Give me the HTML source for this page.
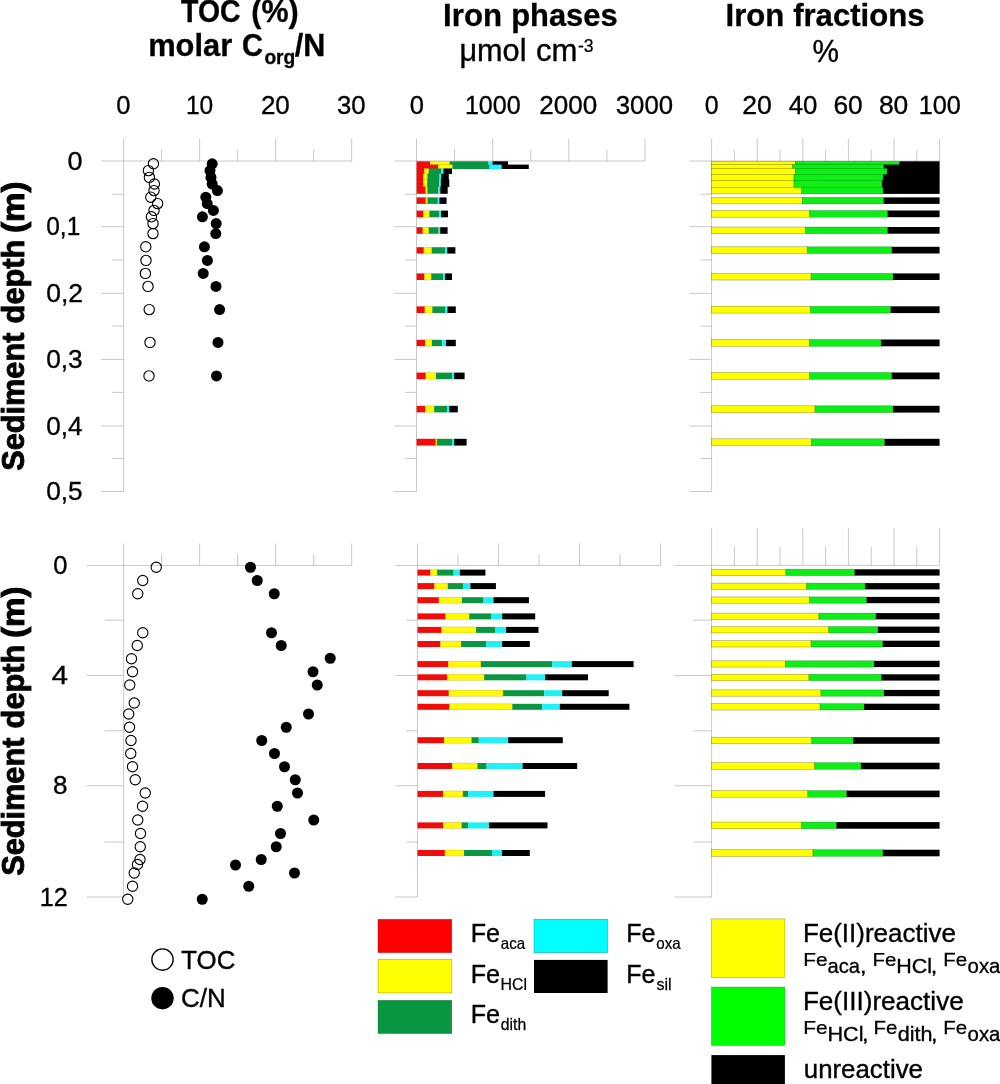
<!DOCTYPE html>
<html><head><meta charset="utf-8"><title>Iron phases and fractions</title>
<style>html,body{margin:0;padding:0;background:#fff}svg{display:block}text{font-family:"Liberation Sans",sans-serif;fill:#000}</style>
</head><body>
<svg width="1000" height="1084" viewBox="0 0 1000 1084">
<rect width="1000" height="1084" fill="#fff"/>
<line x1="101.20" y1="161.00" x2="351.70" y2="161.00" stroke="#9a9a9a" stroke-width="0.55"/>
<line x1="123.60" y1="138.60" x2="123.60" y2="491.40" stroke="#9a9a9a" stroke-width="0.55"/>
<line x1="199.63" y1="138.60" x2="199.63" y2="161.00" stroke="#9a9a9a" stroke-width="0.55"/>
<line x1="275.67" y1="138.60" x2="275.67" y2="161.00" stroke="#9a9a9a" stroke-width="0.55"/>
<line x1="351.70" y1="138.60" x2="351.70" y2="161.00" stroke="#9a9a9a" stroke-width="0.55"/>
<line x1="161.62" y1="149.60" x2="161.62" y2="161.00" stroke="#9a9a9a" stroke-width="0.55"/>
<line x1="237.65" y1="149.60" x2="237.65" y2="161.00" stroke="#9a9a9a" stroke-width="0.55"/>
<line x1="313.68" y1="149.60" x2="313.68" y2="161.00" stroke="#9a9a9a" stroke-width="0.55"/>
<line x1="101.20" y1="226.70" x2="123.60" y2="226.70" stroke="#9a9a9a" stroke-width="0.55"/>
<line x1="101.20" y1="293.30" x2="123.60" y2="293.30" stroke="#9a9a9a" stroke-width="0.55"/>
<line x1="101.20" y1="359.40" x2="123.60" y2="359.40" stroke="#9a9a9a" stroke-width="0.55"/>
<line x1="101.20" y1="426.00" x2="123.60" y2="426.00" stroke="#9a9a9a" stroke-width="0.55"/>
<line x1="101.20" y1="491.50" x2="123.60" y2="491.50" stroke="#9a9a9a" stroke-width="0.55"/>
<line x1="112.20" y1="194.20" x2="123.60" y2="194.20" stroke="#9a9a9a" stroke-width="0.55"/>
<line x1="112.20" y1="259.90" x2="123.60" y2="259.90" stroke="#9a9a9a" stroke-width="0.55"/>
<line x1="112.20" y1="326.10" x2="123.60" y2="326.10" stroke="#9a9a9a" stroke-width="0.55"/>
<line x1="112.20" y1="392.40" x2="123.60" y2="392.40" stroke="#9a9a9a" stroke-width="0.55"/>
<line x1="112.20" y1="458.50" x2="123.60" y2="458.50" stroke="#9a9a9a" stroke-width="0.55"/>
<line x1="86.50" y1="565.40" x2="351.70" y2="565.40" stroke="#9a9a9a" stroke-width="0.55"/>
<line x1="123.60" y1="543.60" x2="123.60" y2="897.00" stroke="#9a9a9a" stroke-width="0.55"/>
<line x1="199.63" y1="543.60" x2="199.63" y2="565.40" stroke="#9a9a9a" stroke-width="0.55"/>
<line x1="275.67" y1="543.60" x2="275.67" y2="565.40" stroke="#9a9a9a" stroke-width="0.55"/>
<line x1="351.70" y1="543.60" x2="351.70" y2="565.40" stroke="#9a9a9a" stroke-width="0.55"/>
<line x1="161.62" y1="554.50" x2="161.62" y2="565.40" stroke="#9a9a9a" stroke-width="0.55"/>
<line x1="237.65" y1="554.50" x2="237.65" y2="565.40" stroke="#9a9a9a" stroke-width="0.55"/>
<line x1="313.68" y1="554.50" x2="313.68" y2="565.40" stroke="#9a9a9a" stroke-width="0.55"/>
<line x1="86.50" y1="675.50" x2="123.60" y2="675.50" stroke="#9a9a9a" stroke-width="0.55"/>
<line x1="86.50" y1="785.70" x2="123.60" y2="785.70" stroke="#9a9a9a" stroke-width="0.55"/>
<line x1="86.50" y1="897.00" x2="123.60" y2="897.00" stroke="#9a9a9a" stroke-width="0.55"/>
<line x1="104.60" y1="620.20" x2="123.60" y2="620.20" stroke="#9a9a9a" stroke-width="0.55"/>
<line x1="104.60" y1="730.80" x2="123.60" y2="730.80" stroke="#9a9a9a" stroke-width="0.55"/>
<line x1="104.60" y1="842.10" x2="123.60" y2="842.10" stroke="#9a9a9a" stroke-width="0.55"/>
<line x1="394.30" y1="161.00" x2="645.00" y2="161.00" stroke="#9a9a9a" stroke-width="0.55"/>
<line x1="416.50" y1="138.80" x2="416.50" y2="491.40" stroke="#9a9a9a" stroke-width="0.55"/>
<line x1="492.67" y1="138.80" x2="492.67" y2="161.00" stroke="#9a9a9a" stroke-width="0.55"/>
<line x1="568.83" y1="138.80" x2="568.83" y2="161.00" stroke="#9a9a9a" stroke-width="0.55"/>
<line x1="645.00" y1="138.80" x2="645.00" y2="161.00" stroke="#9a9a9a" stroke-width="0.55"/>
<line x1="454.58" y1="149.80" x2="454.58" y2="161.00" stroke="#9a9a9a" stroke-width="0.55"/>
<line x1="530.75" y1="149.80" x2="530.75" y2="161.00" stroke="#9a9a9a" stroke-width="0.55"/>
<line x1="606.92" y1="149.80" x2="606.92" y2="161.00" stroke="#9a9a9a" stroke-width="0.55"/>
<line x1="394.30" y1="226.70" x2="416.50" y2="226.70" stroke="#9a9a9a" stroke-width="0.55"/>
<line x1="394.30" y1="293.30" x2="416.50" y2="293.30" stroke="#9a9a9a" stroke-width="0.55"/>
<line x1="394.30" y1="359.40" x2="416.50" y2="359.40" stroke="#9a9a9a" stroke-width="0.55"/>
<line x1="394.30" y1="426.00" x2="416.50" y2="426.00" stroke="#9a9a9a" stroke-width="0.55"/>
<line x1="394.30" y1="491.50" x2="416.50" y2="491.50" stroke="#9a9a9a" stroke-width="0.55"/>
<line x1="405.30" y1="194.20" x2="416.50" y2="194.20" stroke="#9a9a9a" stroke-width="0.55"/>
<line x1="405.30" y1="259.90" x2="416.50" y2="259.90" stroke="#9a9a9a" stroke-width="0.55"/>
<line x1="405.30" y1="326.10" x2="416.50" y2="326.10" stroke="#9a9a9a" stroke-width="0.55"/>
<line x1="405.30" y1="392.40" x2="416.50" y2="392.40" stroke="#9a9a9a" stroke-width="0.55"/>
<line x1="405.30" y1="458.50" x2="416.50" y2="458.50" stroke="#9a9a9a" stroke-width="0.55"/>
<line x1="395.40" y1="565.40" x2="660.60" y2="565.40" stroke="#9a9a9a" stroke-width="0.55"/>
<line x1="417.40" y1="543.40" x2="417.40" y2="897.00" stroke="#9a9a9a" stroke-width="0.55"/>
<line x1="498.47" y1="543.40" x2="498.47" y2="565.40" stroke="#9a9a9a" stroke-width="0.55"/>
<line x1="579.53" y1="543.40" x2="579.53" y2="565.40" stroke="#9a9a9a" stroke-width="0.55"/>
<line x1="660.60" y1="543.40" x2="660.60" y2="565.40" stroke="#9a9a9a" stroke-width="0.55"/>
<line x1="457.93" y1="554.40" x2="457.93" y2="565.40" stroke="#9a9a9a" stroke-width="0.55"/>
<line x1="539.00" y1="554.40" x2="539.00" y2="565.40" stroke="#9a9a9a" stroke-width="0.55"/>
<line x1="620.07" y1="554.40" x2="620.07" y2="565.40" stroke="#9a9a9a" stroke-width="0.55"/>
<line x1="395.40" y1="675.50" x2="417.40" y2="675.50" stroke="#9a9a9a" stroke-width="0.55"/>
<line x1="395.40" y1="785.70" x2="417.40" y2="785.70" stroke="#9a9a9a" stroke-width="0.55"/>
<line x1="395.40" y1="897.00" x2="417.40" y2="897.00" stroke="#9a9a9a" stroke-width="0.55"/>
<line x1="406.40" y1="620.20" x2="417.40" y2="620.20" stroke="#9a9a9a" stroke-width="0.55"/>
<line x1="406.40" y1="730.80" x2="417.40" y2="730.80" stroke="#9a9a9a" stroke-width="0.55"/>
<line x1="406.40" y1="842.10" x2="417.40" y2="842.10" stroke="#9a9a9a" stroke-width="0.55"/>
<line x1="689.40" y1="161.00" x2="939.60" y2="161.00" stroke="#9a9a9a" stroke-width="0.55"/>
<line x1="711.60" y1="138.80" x2="711.60" y2="491.40" stroke="#9a9a9a" stroke-width="0.55"/>
<line x1="757.20" y1="138.80" x2="757.20" y2="161.00" stroke="#9a9a9a" stroke-width="0.55"/>
<line x1="802.80" y1="138.80" x2="802.80" y2="161.00" stroke="#9a9a9a" stroke-width="0.55"/>
<line x1="848.40" y1="138.80" x2="848.40" y2="161.00" stroke="#9a9a9a" stroke-width="0.55"/>
<line x1="894.00" y1="138.80" x2="894.00" y2="161.00" stroke="#9a9a9a" stroke-width="0.55"/>
<line x1="939.60" y1="138.80" x2="939.60" y2="161.00" stroke="#9a9a9a" stroke-width="0.55"/>
<line x1="734.40" y1="149.80" x2="734.40" y2="161.00" stroke="#9a9a9a" stroke-width="0.55"/>
<line x1="780.00" y1="149.80" x2="780.00" y2="161.00" stroke="#9a9a9a" stroke-width="0.55"/>
<line x1="825.60" y1="149.80" x2="825.60" y2="161.00" stroke="#9a9a9a" stroke-width="0.55"/>
<line x1="871.20" y1="149.80" x2="871.20" y2="161.00" stroke="#9a9a9a" stroke-width="0.55"/>
<line x1="916.80" y1="149.80" x2="916.80" y2="161.00" stroke="#9a9a9a" stroke-width="0.55"/>
<line x1="689.40" y1="226.70" x2="711.60" y2="226.70" stroke="#9a9a9a" stroke-width="0.55"/>
<line x1="689.40" y1="293.30" x2="711.60" y2="293.30" stroke="#9a9a9a" stroke-width="0.55"/>
<line x1="689.40" y1="359.40" x2="711.60" y2="359.40" stroke="#9a9a9a" stroke-width="0.55"/>
<line x1="689.40" y1="426.00" x2="711.60" y2="426.00" stroke="#9a9a9a" stroke-width="0.55"/>
<line x1="689.40" y1="491.50" x2="711.60" y2="491.50" stroke="#9a9a9a" stroke-width="0.55"/>
<line x1="700.40" y1="194.20" x2="711.60" y2="194.20" stroke="#9a9a9a" stroke-width="0.55"/>
<line x1="700.40" y1="259.90" x2="711.60" y2="259.90" stroke="#9a9a9a" stroke-width="0.55"/>
<line x1="700.40" y1="326.10" x2="711.60" y2="326.10" stroke="#9a9a9a" stroke-width="0.55"/>
<line x1="700.40" y1="392.40" x2="711.60" y2="392.40" stroke="#9a9a9a" stroke-width="0.55"/>
<line x1="700.40" y1="458.50" x2="711.60" y2="458.50" stroke="#9a9a9a" stroke-width="0.55"/>
<line x1="674.40" y1="565.40" x2="939.60" y2="565.40" stroke="#9a9a9a" stroke-width="0.55"/>
<line x1="711.60" y1="528.20" x2="711.60" y2="897.00" stroke="#9a9a9a" stroke-width="0.55"/>
<line x1="757.20" y1="528.20" x2="757.20" y2="565.40" stroke="#9a9a9a" stroke-width="0.55"/>
<line x1="802.80" y1="528.20" x2="802.80" y2="565.40" stroke="#9a9a9a" stroke-width="0.55"/>
<line x1="848.40" y1="528.20" x2="848.40" y2="565.40" stroke="#9a9a9a" stroke-width="0.55"/>
<line x1="894.00" y1="528.20" x2="894.00" y2="565.40" stroke="#9a9a9a" stroke-width="0.55"/>
<line x1="939.60" y1="528.20" x2="939.60" y2="565.40" stroke="#9a9a9a" stroke-width="0.55"/>
<line x1="734.40" y1="546.80" x2="734.40" y2="565.40" stroke="#9a9a9a" stroke-width="0.55"/>
<line x1="780.00" y1="546.80" x2="780.00" y2="565.40" stroke="#9a9a9a" stroke-width="0.55"/>
<line x1="825.60" y1="546.80" x2="825.60" y2="565.40" stroke="#9a9a9a" stroke-width="0.55"/>
<line x1="871.20" y1="546.80" x2="871.20" y2="565.40" stroke="#9a9a9a" stroke-width="0.55"/>
<line x1="916.80" y1="546.80" x2="916.80" y2="565.40" stroke="#9a9a9a" stroke-width="0.55"/>
<line x1="674.40" y1="675.50" x2="711.60" y2="675.50" stroke="#9a9a9a" stroke-width="0.55"/>
<line x1="674.40" y1="785.70" x2="711.60" y2="785.70" stroke="#9a9a9a" stroke-width="0.55"/>
<line x1="674.40" y1="897.00" x2="711.60" y2="897.00" stroke="#9a9a9a" stroke-width="0.55"/>
<line x1="693.00" y1="620.20" x2="711.60" y2="620.20" stroke="#9a9a9a" stroke-width="0.55"/>
<line x1="693.00" y1="730.80" x2="711.60" y2="730.80" stroke="#9a9a9a" stroke-width="0.55"/>
<line x1="693.00" y1="842.10" x2="711.60" y2="842.10" stroke="#9a9a9a" stroke-width="0.55"/>
<circle cx="153.40" cy="163.80" r="5.15" fill="none" stroke="#000" stroke-width="1.1"/>
<circle cx="148.40" cy="170.60" r="5.15" fill="none" stroke="#000" stroke-width="1.1"/>
<circle cx="149.40" cy="177.40" r="5.15" fill="none" stroke="#000" stroke-width="1.1"/>
<circle cx="154.40" cy="184.00" r="5.15" fill="none" stroke="#000" stroke-width="1.1"/>
<circle cx="154.00" cy="190.60" r="5.15" fill="none" stroke="#000" stroke-width="1.1"/>
<circle cx="150.80" cy="197.20" r="5.15" fill="none" stroke="#000" stroke-width="1.1"/>
<circle cx="157.60" cy="203.60" r="5.15" fill="none" stroke="#000" stroke-width="1.1"/>
<circle cx="154.00" cy="210.40" r="5.15" fill="none" stroke="#000" stroke-width="1.1"/>
<circle cx="151.40" cy="216.80" r="5.15" fill="none" stroke="#000" stroke-width="1.1"/>
<circle cx="153.00" cy="223.60" r="5.15" fill="none" stroke="#000" stroke-width="1.1"/>
<circle cx="153.00" cy="233.60" r="5.15" fill="none" stroke="#000" stroke-width="1.1"/>
<circle cx="145.80" cy="246.80" r="5.15" fill="none" stroke="#000" stroke-width="1.1"/>
<circle cx="146.00" cy="260.40" r="5.15" fill="none" stroke="#000" stroke-width="1.1"/>
<circle cx="145.40" cy="273.40" r="5.15" fill="none" stroke="#000" stroke-width="1.1"/>
<circle cx="148.00" cy="286.40" r="5.15" fill="none" stroke="#000" stroke-width="1.1"/>
<circle cx="149.20" cy="309.60" r="5.15" fill="none" stroke="#000" stroke-width="1.1"/>
<circle cx="150.00" cy="342.40" r="5.15" fill="none" stroke="#000" stroke-width="1.1"/>
<circle cx="149.00" cy="375.90" r="5.15" fill="none" stroke="#000" stroke-width="1.1"/>
<circle cx="156.25" cy="567.25" r="5.15" fill="none" stroke="#000" stroke-width="1.1"/>
<circle cx="142.75" cy="580.50" r="5.15" fill="none" stroke="#000" stroke-width="1.1"/>
<circle cx="137.75" cy="593.75" r="5.15" fill="none" stroke="#000" stroke-width="1.1"/>
<circle cx="142.75" cy="632.75" r="5.15" fill="none" stroke="#000" stroke-width="1.1"/>
<circle cx="137.25" cy="645.50" r="5.15" fill="none" stroke="#000" stroke-width="1.1"/>
<circle cx="131.50" cy="658.75" r="5.15" fill="none" stroke="#000" stroke-width="1.1"/>
<circle cx="132.50" cy="671.75" r="5.15" fill="none" stroke="#000" stroke-width="1.1"/>
<circle cx="129.75" cy="685.00" r="5.15" fill="none" stroke="#000" stroke-width="1.1"/>
<circle cx="134.25" cy="703.00" r="5.15" fill="none" stroke="#000" stroke-width="1.1"/>
<circle cx="128.75" cy="714.00" r="5.15" fill="none" stroke="#000" stroke-width="1.1"/>
<circle cx="129.50" cy="727.25" r="5.15" fill="none" stroke="#000" stroke-width="1.1"/>
<circle cx="131.00" cy="740.50" r="5.15" fill="none" stroke="#000" stroke-width="1.1"/>
<circle cx="130.75" cy="753.50" r="5.15" fill="none" stroke="#000" stroke-width="1.1"/>
<circle cx="132.50" cy="766.75" r="5.15" fill="none" stroke="#000" stroke-width="1.1"/>
<circle cx="135.25" cy="779.75" r="5.15" fill="none" stroke="#000" stroke-width="1.1"/>
<circle cx="145.25" cy="793.00" r="5.15" fill="none" stroke="#000" stroke-width="1.1"/>
<circle cx="142.50" cy="806.25" r="5.15" fill="none" stroke="#000" stroke-width="1.1"/>
<circle cx="137.75" cy="820.00" r="5.15" fill="none" stroke="#000" stroke-width="1.1"/>
<circle cx="140.50" cy="833.50" r="5.15" fill="none" stroke="#000" stroke-width="1.1"/>
<circle cx="140.25" cy="846.75" r="5.15" fill="none" stroke="#000" stroke-width="1.1"/>
<circle cx="140.00" cy="859.50" r="5.15" fill="none" stroke="#000" stroke-width="1.1"/>
<circle cx="137.50" cy="864.50" r="5.15" fill="none" stroke="#000" stroke-width="1.1"/>
<circle cx="134.25" cy="873.00" r="5.15" fill="none" stroke="#000" stroke-width="1.1"/>
<circle cx="132.50" cy="886.25" r="5.15" fill="none" stroke="#000" stroke-width="1.1"/>
<circle cx="127.75" cy="899.25" r="5.15" fill="none" stroke="#000" stroke-width="1.1"/>
<circle cx="212.20" cy="163.80" r="5.5" fill="#000"/>
<circle cx="210.00" cy="170.60" r="5.5" fill="#000"/>
<circle cx="211.00" cy="177.40" r="5.5" fill="#000"/>
<circle cx="212.20" cy="184.00" r="5.5" fill="#000"/>
<circle cx="217.40" cy="190.60" r="5.5" fill="#000"/>
<circle cx="205.80" cy="197.20" r="5.5" fill="#000"/>
<circle cx="207.20" cy="203.60" r="5.5" fill="#000"/>
<circle cx="213.40" cy="210.40" r="5.5" fill="#000"/>
<circle cx="202.40" cy="216.80" r="5.5" fill="#000"/>
<circle cx="216.20" cy="223.60" r="5.5" fill="#000"/>
<circle cx="215.80" cy="233.60" r="5.5" fill="#000"/>
<circle cx="204.40" cy="246.80" r="5.5" fill="#000"/>
<circle cx="207.40" cy="260.40" r="5.5" fill="#000"/>
<circle cx="203.20" cy="273.40" r="5.5" fill="#000"/>
<circle cx="216.00" cy="286.40" r="5.5" fill="#000"/>
<circle cx="219.60" cy="309.60" r="5.5" fill="#000"/>
<circle cx="218.00" cy="342.40" r="5.5" fill="#000"/>
<circle cx="216.50" cy="375.90" r="5.5" fill="#000"/>
<circle cx="250.50" cy="567.25" r="5.5" fill="#000"/>
<circle cx="257.25" cy="580.50" r="5.5" fill="#000"/>
<circle cx="274.25" cy="593.75" r="5.5" fill="#000"/>
<circle cx="271.50" cy="632.75" r="5.5" fill="#000"/>
<circle cx="281.25" cy="645.50" r="5.5" fill="#000"/>
<circle cx="330.25" cy="658.25" r="5.5" fill="#000"/>
<circle cx="313.00" cy="671.75" r="5.5" fill="#000"/>
<circle cx="317.25" cy="685.00" r="5.5" fill="#000"/>
<circle cx="308.50" cy="714.00" r="5.5" fill="#000"/>
<circle cx="286.25" cy="727.25" r="5.5" fill="#000"/>
<circle cx="261.75" cy="740.50" r="5.5" fill="#000"/>
<circle cx="274.50" cy="753.50" r="5.5" fill="#000"/>
<circle cx="284.50" cy="766.75" r="5.5" fill="#000"/>
<circle cx="295.25" cy="779.75" r="5.5" fill="#000"/>
<circle cx="297.50" cy="793.00" r="5.5" fill="#000"/>
<circle cx="277.25" cy="806.25" r="5.5" fill="#000"/>
<circle cx="313.75" cy="820.00" r="5.5" fill="#000"/>
<circle cx="280.50" cy="833.50" r="5.5" fill="#000"/>
<circle cx="276.25" cy="846.75" r="5.5" fill="#000"/>
<circle cx="261.25" cy="859.50" r="5.5" fill="#000"/>
<circle cx="235.50" cy="865.00" r="5.5" fill="#000"/>
<circle cx="294.50" cy="873.00" r="5.5" fill="#000"/>
<circle cx="248.75" cy="886.25" r="5.5" fill="#000"/>
<circle cx="202.25" cy="899.25" r="5.5" fill="#000"/>
<rect x="416.60" y="161.30" width="13.40" height="3.70" fill="#f00c0a"/>
<rect x="430.00" y="161.30" width="19.60" height="3.70" fill="#fffa08" stroke="rgba(190,110,0,0.45)" stroke-width="0.5"/>
<rect x="449.60" y="161.30" width="38.40" height="3.70" fill="#0a9640"/>
<rect x="488.00" y="161.30" width="4.50" height="3.70" fill="#20f0f8"/>
<rect x="492.50" y="161.30" width="15.50" height="3.70" fill="#000"/>
<rect x="416.60" y="164.60" width="21.80" height="4.40" fill="#f00c0a"/>
<rect x="438.40" y="164.60" width="14.10" height="4.40" fill="#fffa08" stroke="rgba(190,110,0,0.45)" stroke-width="0.5"/>
<rect x="452.50" y="164.60" width="37.10" height="4.40" fill="#0a9640"/>
<rect x="489.60" y="164.60" width="12.00" height="4.40" fill="#20f0f8"/>
<rect x="501.60" y="164.60" width="27.20" height="4.40" fill="#000"/>
<rect x="416.60" y="168.50" width="7.40" height="5.50" fill="#f00c0a"/>
<rect x="424.00" y="168.50" width="4.80" height="5.50" fill="#fffa08" stroke="rgba(190,110,0,0.45)" stroke-width="0.5"/>
<rect x="428.80" y="168.50" width="12.50" height="5.50" fill="#0a9640"/>
<rect x="441.30" y="168.50" width="2.20" height="5.50" fill="#20f0f8"/>
<rect x="443.50" y="168.50" width="8.50" height="5.50" fill="#000"/>
<rect x="416.60" y="173.80" width="6.60" height="6.20" fill="#f00c0a"/>
<rect x="423.20" y="173.80" width="4.30" height="6.20" fill="#fffa08" stroke="rgba(190,110,0,0.45)" stroke-width="0.5"/>
<rect x="427.50" y="173.80" width="12.10" height="6.20" fill="#0a9640"/>
<rect x="439.60" y="173.80" width="1.60" height="6.20" fill="#20f0f8"/>
<rect x="441.20" y="173.80" width="7.60" height="6.20" fill="#000"/>
<rect x="416.60" y="179.40" width="6.60" height="7.60" fill="#f00c0a"/>
<rect x="423.20" y="179.40" width="4.00" height="7.60" fill="#fffa08" stroke="rgba(190,110,0,0.45)" stroke-width="0.5"/>
<rect x="427.20" y="179.40" width="12.00" height="7.60" fill="#0a9640"/>
<rect x="439.20" y="179.40" width="1.60" height="7.60" fill="#20f0f8"/>
<rect x="440.80" y="179.40" width="8.50" height="7.60" fill="#000"/>
<rect x="416.60" y="186.60" width="9.00" height="7.20" fill="#f00c0a"/>
<rect x="425.60" y="186.60" width="1.90" height="7.20" fill="#fffa08" stroke="rgba(190,110,0,0.45)" stroke-width="0.5"/>
<rect x="427.50" y="186.60" width="10.90" height="7.20" fill="#0a9640"/>
<rect x="438.40" y="186.60" width="1.90" height="7.20" fill="#20f0f8"/>
<rect x="440.30" y="186.60" width="7.40" height="7.20" fill="#000"/>
<rect x="416.60" y="197.40" width="9.20" height="6.50" fill="#f00c0a"/>
<rect x="425.80" y="197.40" width="1.80" height="6.50" fill="#fffa08" stroke="rgba(190,110,0,0.45)" stroke-width="0.5"/>
<rect x="427.60" y="197.40" width="10.20" height="6.50" fill="#0a9640"/>
<rect x="437.80" y="197.40" width="1.60" height="6.50" fill="#20f0f8"/>
<rect x="439.40" y="197.40" width="7.20" height="6.50" fill="#000"/>
<rect x="416.60" y="210.60" width="6.80" height="6.70" fill="#f00c0a"/>
<rect x="423.40" y="210.60" width="6.00" height="6.70" fill="#fffa08" stroke="rgba(190,110,0,0.45)" stroke-width="0.5"/>
<rect x="429.40" y="210.60" width="10.00" height="6.70" fill="#0a9640"/>
<rect x="439.40" y="210.60" width="1.60" height="6.70" fill="#20f0f8"/>
<rect x="441.00" y="210.60" width="7.00" height="6.70" fill="#000"/>
<rect x="416.60" y="227.20" width="6.20" height="6.60" fill="#f00c0a"/>
<rect x="422.80" y="227.20" width="6.00" height="6.60" fill="#fffa08" stroke="rgba(190,110,0,0.45)" stroke-width="0.5"/>
<rect x="428.80" y="227.20" width="9.80" height="6.60" fill="#0a9640"/>
<rect x="438.60" y="227.20" width="1.60" height="6.60" fill="#20f0f8"/>
<rect x="440.20" y="227.20" width="7.40" height="6.60" fill="#000"/>
<rect x="416.60" y="247.20" width="7.20" height="6.40" fill="#f00c0a"/>
<rect x="423.80" y="247.20" width="8.00" height="6.40" fill="#fffa08" stroke="rgba(190,110,0,0.45)" stroke-width="0.5"/>
<rect x="431.80" y="247.20" width="13.60" height="6.40" fill="#0a9640"/>
<rect x="445.40" y="247.20" width="1.80" height="6.40" fill="#20f0f8"/>
<rect x="447.20" y="247.20" width="8.20" height="6.40" fill="#000"/>
<rect x="416.60" y="273.40" width="7.80" height="6.60" fill="#f00c0a"/>
<rect x="424.40" y="273.40" width="6.80" height="6.60" fill="#fffa08" stroke="rgba(190,110,0,0.45)" stroke-width="0.5"/>
<rect x="431.20" y="273.40" width="11.80" height="6.60" fill="#0a9640"/>
<rect x="443.00" y="273.40" width="2.00" height="6.60" fill="#20f0f8"/>
<rect x="445.00" y="273.40" width="7.00" height="6.60" fill="#000"/>
<rect x="416.60" y="306.40" width="8.20" height="6.60" fill="#f00c0a"/>
<rect x="424.80" y="306.40" width="7.60" height="6.60" fill="#fffa08" stroke="rgba(190,110,0,0.45)" stroke-width="0.5"/>
<rect x="432.40" y="306.40" width="13.00" height="6.60" fill="#0a9640"/>
<rect x="445.40" y="306.40" width="2.00" height="6.60" fill="#20f0f8"/>
<rect x="447.40" y="306.40" width="8.40" height="6.60" fill="#000"/>
<rect x="416.60" y="339.80" width="8.40" height="6.40" fill="#f00c0a"/>
<rect x="425.00" y="339.80" width="7.00" height="6.40" fill="#fffa08" stroke="rgba(190,110,0,0.45)" stroke-width="0.5"/>
<rect x="432.00" y="339.80" width="10.20" height="6.40" fill="#0a9640"/>
<rect x="442.20" y="339.80" width="3.80" height="6.40" fill="#20f0f8"/>
<rect x="446.00" y="339.80" width="9.80" height="6.40" fill="#000"/>
<rect x="416.60" y="372.60" width="9.20" height="6.60" fill="#f00c0a"/>
<rect x="425.80" y="372.60" width="10.20" height="6.60" fill="#fffa08" stroke="rgba(190,110,0,0.45)" stroke-width="0.5"/>
<rect x="436.00" y="372.60" width="16.00" height="6.60" fill="#0a9640"/>
<rect x="452.00" y="372.60" width="2.20" height="6.60" fill="#20f0f8"/>
<rect x="454.20" y="372.60" width="10.40" height="6.60" fill="#000"/>
<rect x="416.60" y="405.80" width="8.60" height="6.60" fill="#f00c0a"/>
<rect x="425.20" y="405.80" width="9.00" height="6.60" fill="#fffa08" stroke="rgba(190,110,0,0.45)" stroke-width="0.5"/>
<rect x="434.20" y="405.80" width="12.80" height="6.60" fill="#0a9640"/>
<rect x="447.00" y="405.80" width="2.20" height="6.60" fill="#20f0f8"/>
<rect x="449.20" y="405.80" width="8.60" height="6.60" fill="#000"/>
<rect x="416.60" y="438.80" width="19.20" height="6.80" fill="#f00c0a"/>
<rect x="435.80" y="438.80" width="1.20" height="6.80" fill="#fffa08" stroke="rgba(190,110,0,0.45)" stroke-width="0.5"/>
<rect x="437.00" y="438.80" width="15.00" height="6.80" fill="#0a9640"/>
<rect x="452.00" y="438.80" width="2.20" height="6.80" fill="#20f0f8"/>
<rect x="454.20" y="438.80" width="12.40" height="6.80" fill="#000"/>
<rect x="417.50" y="569.60" width="13.00" height="6.00" fill="#f00c0a"/>
<rect x="430.50" y="569.60" width="6.60" height="6.00" fill="#fffa08" stroke="rgba(190,110,0,0.45)" stroke-width="0.5"/>
<rect x="437.10" y="569.60" width="16.50" height="6.00" fill="#0a9640"/>
<rect x="453.60" y="569.60" width="6.30" height="6.00" fill="#20f0f8"/>
<rect x="459.90" y="569.60" width="25.50" height="6.00" fill="#000"/>
<rect x="417.50" y="583.10" width="16.90" height="6.00" fill="#f00c0a"/>
<rect x="434.40" y="583.10" width="13.50" height="6.00" fill="#fffa08" stroke="rgba(190,110,0,0.45)" stroke-width="0.5"/>
<rect x="447.90" y="583.10" width="15.60" height="6.00" fill="#0a9640"/>
<rect x="463.50" y="583.10" width="6.90" height="6.00" fill="#20f0f8"/>
<rect x="470.40" y="583.10" width="25.50" height="6.00" fill="#000"/>
<rect x="417.50" y="597.20" width="21.40" height="6.00" fill="#f00c0a"/>
<rect x="438.90" y="597.20" width="23.10" height="6.00" fill="#fffa08" stroke="rgba(190,110,0,0.45)" stroke-width="0.5"/>
<rect x="462.00" y="597.20" width="21.00" height="6.00" fill="#0a9640"/>
<rect x="483.00" y="597.20" width="10.50" height="6.00" fill="#20f0f8"/>
<rect x="493.50" y="597.20" width="35.40" height="6.00" fill="#000"/>
<rect x="417.50" y="613.40" width="28.00" height="6.00" fill="#f00c0a"/>
<rect x="445.50" y="613.40" width="23.70" height="6.00" fill="#fffa08" stroke="rgba(190,110,0,0.45)" stroke-width="0.5"/>
<rect x="469.20" y="613.40" width="21.90" height="6.00" fill="#0a9640"/>
<rect x="491.10" y="613.40" width="11.10" height="6.00" fill="#20f0f8"/>
<rect x="502.20" y="613.40" width="33.00" height="6.00" fill="#000"/>
<rect x="417.50" y="626.90" width="24.10" height="6.00" fill="#f00c0a"/>
<rect x="441.60" y="626.90" width="34.50" height="6.00" fill="#fffa08" stroke="rgba(190,110,0,0.45)" stroke-width="0.5"/>
<rect x="476.10" y="626.90" width="18.90" height="6.00" fill="#0a9640"/>
<rect x="495.00" y="626.90" width="11.10" height="6.00" fill="#20f0f8"/>
<rect x="506.10" y="626.90" width="32.40" height="6.00" fill="#000"/>
<rect x="417.50" y="641.00" width="22.90" height="6.00" fill="#f00c0a"/>
<rect x="440.40" y="641.00" width="20.70" height="6.00" fill="#fffa08" stroke="rgba(190,110,0,0.45)" stroke-width="0.5"/>
<rect x="461.10" y="641.00" width="24.90" height="6.00" fill="#0a9640"/>
<rect x="486.00" y="641.00" width="16.20" height="6.00" fill="#20f0f8"/>
<rect x="502.20" y="641.00" width="27.60" height="6.00" fill="#000"/>
<rect x="417.50" y="661.10" width="30.70" height="6.00" fill="#f00c0a"/>
<rect x="448.20" y="661.10" width="32.70" height="6.00" fill="#fffa08" stroke="rgba(190,110,0,0.45)" stroke-width="0.5"/>
<rect x="480.90" y="661.10" width="71.40" height="6.00" fill="#0a9640"/>
<rect x="552.30" y="661.10" width="19.50" height="6.00" fill="#20f0f8"/>
<rect x="571.80" y="661.10" width="61.80" height="6.00" fill="#000"/>
<rect x="417.50" y="674.30" width="29.50" height="6.00" fill="#f00c0a"/>
<rect x="447.00" y="674.30" width="37.20" height="6.00" fill="#fffa08" stroke="rgba(190,110,0,0.45)" stroke-width="0.5"/>
<rect x="484.20" y="674.30" width="42.30" height="6.00" fill="#0a9640"/>
<rect x="526.50" y="674.30" width="18.60" height="6.00" fill="#20f0f8"/>
<rect x="545.10" y="674.30" width="42.90" height="6.00" fill="#000"/>
<rect x="417.50" y="690.20" width="31.30" height="6.00" fill="#f00c0a"/>
<rect x="448.80" y="690.20" width="54.30" height="6.00" fill="#fffa08" stroke="rgba(190,110,0,0.45)" stroke-width="0.5"/>
<rect x="503.10" y="690.20" width="41.10" height="6.00" fill="#0a9640"/>
<rect x="544.20" y="690.20" width="18.00" height="6.00" fill="#20f0f8"/>
<rect x="562.20" y="690.20" width="46.50" height="6.00" fill="#000"/>
<rect x="417.50" y="703.80" width="31.90" height="6.00" fill="#f00c0a"/>
<rect x="449.40" y="703.80" width="63.00" height="6.00" fill="#fffa08" stroke="rgba(190,110,0,0.45)" stroke-width="0.5"/>
<rect x="512.40" y="703.80" width="29.70" height="6.00" fill="#0a9640"/>
<rect x="542.10" y="703.80" width="17.70" height="6.00" fill="#20f0f8"/>
<rect x="559.80" y="703.80" width="69.60" height="6.00" fill="#000"/>
<rect x="417.50" y="737.20" width="26.50" height="6.00" fill="#f00c0a"/>
<rect x="444.00" y="737.20" width="27.60" height="6.00" fill="#fffa08" stroke="rgba(190,110,0,0.45)" stroke-width="0.5"/>
<rect x="471.60" y="737.20" width="7.20" height="6.00" fill="#0a9640"/>
<rect x="478.80" y="737.20" width="29.40" height="6.00" fill="#20f0f8"/>
<rect x="508.20" y="737.20" width="54.60" height="6.00" fill="#000"/>
<rect x="417.50" y="763.00" width="34.60" height="6.00" fill="#f00c0a"/>
<rect x="452.10" y="763.00" width="25.50" height="6.00" fill="#fffa08" stroke="rgba(190,110,0,0.45)" stroke-width="0.5"/>
<rect x="477.60" y="763.00" width="9.00" height="6.00" fill="#0a9640"/>
<rect x="486.60" y="763.00" width="36.00" height="6.00" fill="#20f0f8"/>
<rect x="522.60" y="763.00" width="54.60" height="6.00" fill="#000"/>
<rect x="417.50" y="790.90" width="25.60" height="6.00" fill="#f00c0a"/>
<rect x="443.10" y="790.90" width="19.80" height="6.00" fill="#fffa08" stroke="rgba(190,110,0,0.45)" stroke-width="0.5"/>
<rect x="462.90" y="790.90" width="5.10" height="6.00" fill="#0a9640"/>
<rect x="468.00" y="790.90" width="25.50" height="6.00" fill="#20f0f8"/>
<rect x="493.50" y="790.90" width="51.60" height="6.00" fill="#000"/>
<rect x="417.50" y="822.40" width="25.60" height="6.00" fill="#f00c0a"/>
<rect x="443.10" y="822.40" width="18.60" height="6.00" fill="#fffa08" stroke="rgba(190,110,0,0.45)" stroke-width="0.5"/>
<rect x="461.70" y="822.40" width="6.30" height="6.00" fill="#0a9640"/>
<rect x="468.00" y="822.40" width="21.00" height="6.00" fill="#20f0f8"/>
<rect x="489.00" y="822.40" width="58.50" height="6.00" fill="#000"/>
<rect x="417.50" y="850.00" width="27.40" height="6.00" fill="#f00c0a"/>
<rect x="444.90" y="850.00" width="19.20" height="6.00" fill="#fffa08" stroke="rgba(190,110,0,0.45)" stroke-width="0.5"/>
<rect x="464.10" y="850.00" width="27.90" height="6.00" fill="#0a9640"/>
<rect x="492.00" y="850.00" width="9.90" height="6.00" fill="#20f0f8"/>
<rect x="501.90" y="850.00" width="27.90" height="6.00" fill="#000"/>
<rect x="711.70" y="161.30" width="83.60" height="3.70" fill="#ffff00" stroke="rgba(90,90,0,0.6)" stroke-width="0.55"/>
<rect x="795.30" y="161.30" width="104.00" height="3.70" fill="#0cee16" stroke="rgba(0,110,0,0.6)" stroke-width="0.5"/>
<rect x="899.30" y="161.30" width="40.30" height="3.70" fill="#000"/>
<rect x="711.70" y="164.60" width="81.00" height="4.40" fill="#ffff00" stroke="rgba(90,90,0,0.6)" stroke-width="0.55"/>
<rect x="792.70" y="164.60" width="91.00" height="4.40" fill="#0cee16" stroke="rgba(0,110,0,0.6)" stroke-width="0.5"/>
<rect x="883.70" y="164.60" width="55.90" height="4.40" fill="#000"/>
<rect x="711.70" y="168.40" width="83.60" height="6.60" fill="#ffff00" stroke="rgba(90,90,0,0.6)" stroke-width="0.55"/>
<rect x="795.30" y="168.40" width="91.70" height="6.60" fill="#0cee16" stroke="rgba(0,110,0,0.6)" stroke-width="0.5"/>
<rect x="887.00" y="168.40" width="52.60" height="6.60" fill="#000"/>
<rect x="711.70" y="174.40" width="82.30" height="6.60" fill="#ffff00" stroke="rgba(90,90,0,0.6)" stroke-width="0.55"/>
<rect x="794.00" y="174.40" width="89.00" height="6.60" fill="#0cee16" stroke="rgba(0,110,0,0.6)" stroke-width="0.5"/>
<rect x="883.00" y="174.40" width="56.60" height="6.60" fill="#000"/>
<rect x="711.70" y="180.60" width="82.30" height="7.40" fill="#ffff00" stroke="rgba(90,90,0,0.6)" stroke-width="0.55"/>
<rect x="794.00" y="180.60" width="87.90" height="7.40" fill="#0cee16" stroke="rgba(0,110,0,0.6)" stroke-width="0.5"/>
<rect x="881.90" y="180.60" width="57.70" height="7.40" fill="#000"/>
<rect x="711.70" y="187.40" width="90.10" height="6.50" fill="#ffff00" stroke="rgba(90,90,0,0.6)" stroke-width="0.55"/>
<rect x="801.80" y="187.40" width="81.20" height="6.50" fill="#0cee16" stroke="rgba(0,110,0,0.6)" stroke-width="0.5"/>
<rect x="883.00" y="187.40" width="56.60" height="6.50" fill="#000"/>
<rect x="711.70" y="197.40" width="90.60" height="6.50" fill="#ffff00" stroke="rgba(90,90,0,0.6)" stroke-width="0.55"/>
<rect x="802.30" y="197.40" width="81.40" height="6.50" fill="#0cee16" stroke="rgba(0,110,0,0.6)" stroke-width="0.5"/>
<rect x="883.70" y="197.40" width="55.90" height="6.50" fill="#000"/>
<rect x="711.70" y="210.50" width="97.90" height="6.70" fill="#ffff00" stroke="rgba(90,90,0,0.6)" stroke-width="0.55"/>
<rect x="809.60" y="210.50" width="78.00" height="6.70" fill="#0cee16" stroke="rgba(0,110,0,0.6)" stroke-width="0.5"/>
<rect x="887.60" y="210.50" width="52.00" height="6.70" fill="#000"/>
<rect x="711.70" y="227.00" width="93.70" height="6.70" fill="#ffff00" stroke="rgba(90,90,0,0.6)" stroke-width="0.55"/>
<rect x="805.40" y="227.00" width="82.20" height="6.70" fill="#0cee16" stroke="rgba(0,110,0,0.6)" stroke-width="0.5"/>
<rect x="887.60" y="227.00" width="52.00" height="6.70" fill="#000"/>
<rect x="711.70" y="246.80" width="95.50" height="6.70" fill="#ffff00" stroke="rgba(90,90,0,0.6)" stroke-width="0.55"/>
<rect x="807.20" y="246.80" width="84.60" height="6.70" fill="#0cee16" stroke="rgba(0,110,0,0.6)" stroke-width="0.5"/>
<rect x="891.80" y="246.80" width="47.80" height="6.70" fill="#000"/>
<rect x="711.70" y="273.40" width="99.40" height="6.60" fill="#ffff00" stroke="rgba(90,90,0,0.6)" stroke-width="0.55"/>
<rect x="811.10" y="273.40" width="81.90" height="6.60" fill="#0cee16" stroke="rgba(0,110,0,0.6)" stroke-width="0.5"/>
<rect x="893.00" y="273.40" width="46.60" height="6.60" fill="#000"/>
<rect x="711.70" y="306.30" width="98.80" height="6.80" fill="#ffff00" stroke="rgba(90,90,0,0.6)" stroke-width="0.55"/>
<rect x="810.50" y="306.30" width="80.10" height="6.80" fill="#0cee16" stroke="rgba(0,110,0,0.6)" stroke-width="0.5"/>
<rect x="890.60" y="306.30" width="49.00" height="6.80" fill="#000"/>
<rect x="711.70" y="339.50" width="97.90" height="6.80" fill="#ffff00" stroke="rgba(90,90,0,0.6)" stroke-width="0.55"/>
<rect x="809.60" y="339.50" width="71.40" height="6.80" fill="#0cee16" stroke="rgba(0,110,0,0.6)" stroke-width="0.5"/>
<rect x="881.00" y="339.50" width="58.60" height="6.80" fill="#000"/>
<rect x="711.70" y="372.50" width="97.90" height="6.80" fill="#ffff00" stroke="rgba(90,90,0,0.6)" stroke-width="0.55"/>
<rect x="809.60" y="372.50" width="82.20" height="6.80" fill="#0cee16" stroke="rgba(0,110,0,0.6)" stroke-width="0.5"/>
<rect x="891.80" y="372.50" width="47.80" height="6.80" fill="#000"/>
<rect x="711.70" y="405.80" width="103.30" height="6.80" fill="#ffff00" stroke="rgba(90,90,0,0.6)" stroke-width="0.55"/>
<rect x="815.00" y="405.80" width="78.00" height="6.80" fill="#0cee16" stroke="rgba(0,110,0,0.6)" stroke-width="0.5"/>
<rect x="893.00" y="405.80" width="46.60" height="6.80" fill="#000"/>
<rect x="711.70" y="438.80" width="99.70" height="7.00" fill="#ffff00" stroke="rgba(90,90,0,0.6)" stroke-width="0.55"/>
<rect x="811.40" y="438.80" width="73.20" height="7.00" fill="#0cee16" stroke="rgba(0,110,0,0.6)" stroke-width="0.5"/>
<rect x="884.60" y="438.80" width="55.00" height="7.00" fill="#000"/>
<rect x="711.70" y="569.30" width="74.20" height="6.30" fill="#ffff00" stroke="rgba(90,90,0,0.6)" stroke-width="0.55"/>
<rect x="785.90" y="569.30" width="68.70" height="6.30" fill="#0cee16" stroke="rgba(0,110,0,0.6)" stroke-width="0.5"/>
<rect x="854.60" y="569.30" width="85.00" height="6.30" fill="#000"/>
<rect x="711.70" y="583.10" width="94.90" height="6.30" fill="#ffff00" stroke="rgba(90,90,0,0.6)" stroke-width="0.55"/>
<rect x="806.60" y="583.10" width="58.50" height="6.30" fill="#0cee16" stroke="rgba(0,110,0,0.6)" stroke-width="0.5"/>
<rect x="865.10" y="583.10" width="74.50" height="6.30" fill="#000"/>
<rect x="711.70" y="596.90" width="97.90" height="6.30" fill="#ffff00" stroke="rgba(90,90,0,0.6)" stroke-width="0.55"/>
<rect x="809.60" y="596.90" width="57.00" height="6.30" fill="#0cee16" stroke="rgba(0,110,0,0.6)" stroke-width="0.5"/>
<rect x="866.60" y="596.90" width="73.00" height="6.30" fill="#000"/>
<rect x="711.70" y="613.10" width="107.20" height="6.30" fill="#ffff00" stroke="rgba(90,90,0,0.6)" stroke-width="0.55"/>
<rect x="818.90" y="613.10" width="57.00" height="6.30" fill="#0cee16" stroke="rgba(0,110,0,0.6)" stroke-width="0.5"/>
<rect x="875.90" y="613.10" width="63.70" height="6.30" fill="#000"/>
<rect x="711.70" y="626.60" width="117.10" height="6.30" fill="#ffff00" stroke="rgba(90,90,0,0.6)" stroke-width="0.55"/>
<rect x="828.80" y="626.60" width="49.20" height="6.30" fill="#0cee16" stroke="rgba(0,110,0,0.6)" stroke-width="0.5"/>
<rect x="878.00" y="626.60" width="61.60" height="6.30" fill="#000"/>
<rect x="711.70" y="640.70" width="99.40" height="6.30" fill="#ffff00" stroke="rgba(90,90,0,0.6)" stroke-width="0.55"/>
<rect x="811.10" y="640.70" width="71.70" height="6.30" fill="#0cee16" stroke="rgba(0,110,0,0.6)" stroke-width="0.5"/>
<rect x="882.80" y="640.70" width="56.80" height="6.30" fill="#000"/>
<rect x="711.70" y="660.80" width="73.60" height="6.30" fill="#ffff00" stroke="rgba(90,90,0,0.6)" stroke-width="0.55"/>
<rect x="785.30" y="660.80" width="88.80" height="6.30" fill="#0cee16" stroke="rgba(0,110,0,0.6)" stroke-width="0.5"/>
<rect x="874.10" y="660.80" width="65.50" height="6.30" fill="#000"/>
<rect x="711.70" y="674.30" width="97.30" height="6.30" fill="#ffff00" stroke="rgba(90,90,0,0.6)" stroke-width="0.55"/>
<rect x="809.00" y="674.30" width="72.30" height="6.30" fill="#0cee16" stroke="rgba(0,110,0,0.6)" stroke-width="0.5"/>
<rect x="881.30" y="674.30" width="58.30" height="6.30" fill="#000"/>
<rect x="711.70" y="689.90" width="109.30" height="6.30" fill="#ffff00" stroke="rgba(90,90,0,0.6)" stroke-width="0.55"/>
<rect x="821.00" y="689.90" width="63.00" height="6.30" fill="#0cee16" stroke="rgba(0,110,0,0.6)" stroke-width="0.5"/>
<rect x="884.00" y="689.90" width="55.60" height="6.30" fill="#000"/>
<rect x="711.70" y="703.70" width="108.40" height="6.30" fill="#ffff00" stroke="rgba(90,90,0,0.6)" stroke-width="0.55"/>
<rect x="820.10" y="703.70" width="44.10" height="6.30" fill="#0cee16" stroke="rgba(0,110,0,0.6)" stroke-width="0.5"/>
<rect x="864.20" y="703.70" width="75.40" height="6.30" fill="#000"/>
<rect x="711.70" y="737.20" width="100.10" height="6.60" fill="#ffff00" stroke="rgba(90,90,0,0.6)" stroke-width="0.55"/>
<rect x="811.80" y="737.20" width="41.40" height="6.60" fill="#0cee16" stroke="rgba(0,110,0,0.6)" stroke-width="0.5"/>
<rect x="853.20" y="737.20" width="86.40" height="6.60" fill="#000"/>
<rect x="711.70" y="762.70" width="103.10" height="6.60" fill="#ffff00" stroke="rgba(90,90,0,0.6)" stroke-width="0.55"/>
<rect x="814.80" y="762.70" width="46.20" height="6.60" fill="#0cee16" stroke="rgba(0,110,0,0.6)" stroke-width="0.5"/>
<rect x="861.00" y="762.70" width="78.60" height="6.60" fill="#000"/>
<rect x="711.70" y="790.60" width="96.20" height="6.60" fill="#ffff00" stroke="rgba(90,90,0,0.6)" stroke-width="0.55"/>
<rect x="807.90" y="790.60" width="38.70" height="6.60" fill="#0cee16" stroke="rgba(0,110,0,0.6)" stroke-width="0.5"/>
<rect x="846.60" y="790.60" width="93.00" height="6.60" fill="#000"/>
<rect x="711.70" y="822.10" width="89.90" height="6.60" fill="#ffff00" stroke="rgba(90,90,0,0.6)" stroke-width="0.55"/>
<rect x="801.60" y="822.10" width="34.80" height="6.60" fill="#0cee16" stroke="rgba(0,110,0,0.6)" stroke-width="0.5"/>
<rect x="836.40" y="822.10" width="103.20" height="6.60" fill="#000"/>
<rect x="711.70" y="849.70" width="101.30" height="6.60" fill="#ffff00" stroke="rgba(90,90,0,0.6)" stroke-width="0.55"/>
<rect x="813.00" y="849.70" width="69.90" height="6.60" fill="#0cee16" stroke="rgba(0,110,0,0.6)" stroke-width="0.5"/>
<rect x="882.90" y="849.70" width="56.70" height="6.60" fill="#000"/>
<circle cx="162.5" cy="959.6" r="10.65" fill="none" stroke="#000" stroke-width="1.35"/>
<circle cx="162.5" cy="998.2" r="11.2" fill="#000"/>
<rect x="378.00" y="919.30" width="73.80" height="33.40" fill="#ff0000" stroke="rgba(120,0,0,0.5)" stroke-width="0.5"/>
<rect x="378.00" y="959.60" width="73.80" height="33.30" fill="#ffff00" stroke="rgba(110,110,0,0.6)" stroke-width="0.6"/>
<rect x="378.00" y="1000.30" width="73.80" height="33.30" fill="#0a9640" stroke="rgba(0,70,20,0.5)" stroke-width="0.5"/>
<rect x="534.00" y="919.30" width="73.60" height="33.40" fill="#00ffff" stroke="rgba(0,110,110,0.6)" stroke-width="0.6"/>
<rect x="534.00" y="959.90" width="73.60" height="33.10" fill="#000"/>
<rect x="711.40" y="918.90" width="73.50" height="58.50" fill="#ffff00" stroke="rgba(110,110,0,0.6)" stroke-width="0.6"/>
<rect x="711.40" y="987.00" width="73.50" height="58.50" fill="#00ff00" stroke="rgba(0,110,0,0.5)" stroke-width="0.5"/>
<rect x="711.40" y="1055.10" width="73.50" height="34.90" fill="#000"/>
<text transform="translate(181.07,21.60) scale(0.9333,1)" font-size="30.5" stroke="#000" stroke-width="0.3" font-weight="bold">TOC</text>
<text transform="translate(251.22,21.60) scale(1.0005,1)" font-size="30.5" stroke="#000" stroke-width="0.3" font-weight="bold">(%)</text>
<text transform="translate(148.14,55.60) scale(1.0127,1)" font-size="30.5" stroke="#000" stroke-width="0.3" font-weight="bold">molar</text>
<text transform="translate(241.98,55.60) scale(0.9561,1)" font-size="30.5" stroke="#000" stroke-width="0.3" font-weight="bold">C</text>
<text transform="translate(264.38,63.60) scale(0.9601,1)" font-size="20" stroke="#000" stroke-width="0.3" font-weight="bold">org</text>
<text transform="translate(294.84,55.60) scale(1.0031,1)" font-size="30.5" stroke="#000" stroke-width="0.3" font-weight="bold">/N</text>
<text transform="translate(443.12,26.20) scale(1.0235,1)" font-size="30.5" stroke="#000" stroke-width="0.3" font-weight="bold">Iron</text>
<text transform="translate(511.14,26.20) scale(1.0140,1)" font-size="30.5" stroke="#000" stroke-width="0.3" font-weight="bold">phases</text>
<text transform="translate(725.53,26.30) scale(1.0198,1)" font-size="30.5" stroke="#000" stroke-width="0.3" font-weight="bold">Iron</text>
<text transform="translate(793.18,26.30) scale(1.0194,1)" font-size="30.5" stroke="#000" stroke-width="0.3" font-weight="bold">fractions</text>
<text transform="translate(459.43,61.40) scale(1.0051,1)" font-size="30.5" stroke="#000" stroke-width="0.35">μmol</text>
<text transform="translate(535.93,61.40) scale(1.0196,1)" font-size="30.5" stroke="#000" stroke-width="0.35">cm</text>
<text transform="translate(577.93,52.30) scale(0.9765,1)" font-size="18" stroke="#000" stroke-width="0.25">-3</text>
<text transform="translate(812.53,61.50) scale(0.9776,1)" font-size="30.5" stroke="#000" stroke-width="0.35">%</text>
<text transform="translate(116.25,114.30) scale(0.9631,1)" font-size="26.5" stroke="#000" stroke-width="0.35">0</text>
<text transform="translate(185.93,114.30) scale(0.9264,1)" font-size="26.5" stroke="#000" stroke-width="0.35">10</text>
<text transform="translate(260.88,114.30) scale(0.9811,1)" font-size="26.5" stroke="#000" stroke-width="0.35">20</text>
<text transform="translate(337.05,114.30) scale(0.9717,1)" font-size="26.5" stroke="#000" stroke-width="0.35">30</text>
<text transform="translate(409.65,114.30) scale(0.9631,1)" font-size="26.5" stroke="#000" stroke-width="0.35">0</text>
<text transform="translate(464.89,114.30) scale(0.9465,1)" font-size="26.5" stroke="#000" stroke-width="0.35">1000</text>
<text transform="translate(539.27,114.30) scale(0.9831,1)" font-size="26.5" stroke="#000" stroke-width="0.35">2000</text>
<text transform="translate(615.74,114.30) scale(0.9732,1)" font-size="26.5" stroke="#000" stroke-width="0.35">3000</text>
<text transform="translate(704.78,114.30) scale(0.9395,1)" font-size="26.5" stroke="#000" stroke-width="0.35">0</text>
<text transform="translate(742.25,114.30) scale(1.0032,1)" font-size="26.5" stroke="#000" stroke-width="0.35">20</text>
<text transform="translate(788.66,114.30) scale(0.9747,1)" font-size="26.5" stroke="#000" stroke-width="0.35">40</text>
<text transform="translate(833.46,114.30) scale(0.9922,1)" font-size="26.5" stroke="#000" stroke-width="0.35">60</text>
<text transform="translate(878.88,114.30) scale(0.9984,1)" font-size="26.5" stroke="#000" stroke-width="0.35">80</text>
<text transform="translate(918.68,114.30) scale(0.9525,1)" font-size="26.5" stroke="#000" stroke-width="0.35">100</text>
<text transform="translate(67.60,169.60) scale(1.0181,1)" font-size="26.5" stroke="#000" stroke-width="0.35">0</text>
<text transform="translate(46.30,235.30) scale(0.9210,1)" font-size="26.5" stroke="#000" stroke-width="0.35">0,1</text>
<text transform="translate(46.22,301.90) scale(0.9971,1)" font-size="26.5" stroke="#000" stroke-width="0.35">0,2</text>
<text transform="translate(46.23,368.00) scale(0.9895,1)" font-size="26.5" stroke="#000" stroke-width="0.35">0,3</text>
<text transform="translate(46.23,434.60) scale(0.9820,1)" font-size="26.5" stroke="#000" stroke-width="0.35">0,4</text>
<text transform="translate(46.23,500.10) scale(0.9895,1)" font-size="26.5" stroke="#000" stroke-width="0.35">0,5</text>
<text transform="translate(53.15,574.00) scale(0.9631,1)" font-size="26.5" stroke="#000" stroke-width="0.35">0</text>
<text transform="translate(51.79,684.10) scale(1.1022,1)" font-size="26.5" stroke="#000" stroke-width="0.35">4</text>
<text transform="translate(53.00,794.30) scale(0.9835,1)" font-size="26.5" stroke="#000" stroke-width="0.35">8</text>
<text transform="translate(39.68,905.60) scale(0.9520,1)" font-size="26.5" stroke="#000" stroke-width="0.35">12</text>
<text transform="translate(23.80,470.77) rotate(-90) scale(1.0071,1)" font-size="30.5" stroke="#000" stroke-width="0.9" font-weight="bold">Sediment</text>
<text transform="translate(23.80,323.38) rotate(-90) scale(1.0086,1)" font-size="30.5" stroke="#000" stroke-width="0.9" font-weight="bold">depth</text>
<text transform="translate(23.80,233.01) rotate(-90) scale(1.0861,1)" font-size="30.5" stroke="#000" stroke-width="0.9" font-weight="bold">(m)</text>
<text transform="translate(23.70,875.77) rotate(-90) scale(1.0071,1)" font-size="30.5" stroke="#000" stroke-width="0.9" font-weight="bold">Sediment</text>
<text transform="translate(23.70,728.38) rotate(-90) scale(1.0086,1)" font-size="30.5" stroke="#000" stroke-width="0.9" font-weight="bold">depth</text>
<text transform="translate(23.70,638.01) rotate(-90) scale(1.0861,1)" font-size="30.5" stroke="#000" stroke-width="0.9" font-weight="bold">(m)</text>
<text transform="translate(181.26,968.80) scale(1.0349,1)" font-size="25" stroke="#000" stroke-width="0.35">TOC</text>
<text transform="translate(181.08,1007.20) scale(1.0377,1)" font-size="25" stroke="#000" stroke-width="0.35">C/N</text>
<text transform="translate(470.67,942.00) scale(1.0019,1)" font-size="25" stroke="#000" stroke-width="0.35">Fe</text>
<text transform="translate(500.82,948.90) scale(0.9168,1)" font-size="16.5" stroke="#000" stroke-width="0.25">aca</text>
<text transform="translate(470.67,982.60) scale(1.0019,1)" font-size="25" stroke="#000" stroke-width="0.35">Fe</text>
<text transform="translate(500.45,989.50) scale(0.9629,1)" font-size="16.5" stroke="#000" stroke-width="0.25">HCl</text>
<text transform="translate(470.67,1022.90) scale(1.0019,1)" font-size="25" stroke="#000" stroke-width="0.35">Fe</text>
<text transform="translate(500.79,1029.80) scale(0.9564,1)" font-size="16.5" stroke="#000" stroke-width="0.25">dith</text>
<text transform="translate(626.17,942.00) scale(1.0019,1)" font-size="25" stroke="#000" stroke-width="0.35">Fe</text>
<text transform="translate(656.32,948.90) scale(0.9168,1)" font-size="16.5" stroke="#000" stroke-width="0.25">oxa</text>
<text transform="translate(626.17,982.60) scale(1.0019,1)" font-size="25" stroke="#000" stroke-width="0.35">Fe</text>
<text transform="translate(656.44,989.50) scale(0.9790,1)" font-size="16.5" stroke="#000" stroke-width="0.25">sil</text>
<text transform="translate(802.90,942.30) scale(1.0390,1)" font-size="25" stroke="#000" stroke-width="0.35">Fe(II)reactive</text>
<text transform="translate(802.89,1010.30) scale(1.0434,1)" font-size="25" stroke="#000" stroke-width="0.35">Fe(III)reactive</text>
<text transform="translate(803.79,1078.00) scale(1.0340,1)" font-size="25" stroke="#000" stroke-width="0.35">unreactive</text>
<text transform="translate(803.25,965.80) scale(1.1305,1)" font-size="18.5" stroke="#000" stroke-width="0.25">Fe</text>
<text transform="translate(827.57,973.10) scale(0.9600,1)" font-size="21" stroke="#000" stroke-width="0.35">aca</text>
<text transform="translate(859.96,973.10) scale(1.1190,1)" font-size="21" stroke="#000" stroke-width="0.35">,</text>
<text transform="translate(872.38,965.80) scale(1.1097,1)" font-size="18.5" stroke="#000" stroke-width="0.25">Fe</text>
<text transform="translate(896.16,973.10) scale(1.0229,1)" font-size="21" stroke="#000" stroke-width="0.35">HCl</text>
<text transform="translate(930.66,973.10) scale(1.1190,1)" font-size="21" stroke="#000" stroke-width="0.35">,</text>
<text transform="translate(943.19,965.80) scale(1.1045,1)" font-size="18.5" stroke="#000" stroke-width="0.25">Fe</text>
<text transform="translate(967.56,973.10) scale(0.9721,1)" font-size="21" stroke="#000" stroke-width="0.35">oxa</text>
<text transform="translate(803.25,1034.30) scale(1.1305,1)" font-size="18.5" stroke="#000" stroke-width="0.25">Fe</text>
<text transform="translate(827.45,1041.20) scale(1.0291,1)" font-size="21" stroke="#000" stroke-width="0.35">HCl</text>
<text transform="translate(861.96,1041.20) scale(1.1190,1)" font-size="21" stroke="#000" stroke-width="0.35">,</text>
<text transform="translate(873.49,1034.30) scale(1.1045,1)" font-size="18.5" stroke="#000" stroke-width="0.25">Fe</text>
<text transform="translate(897.81,1041.20) scale(1.0267,1)" font-size="21" stroke="#000" stroke-width="0.35">dith</text>
<text transform="translate(931.06,1041.20) scale(1.1190,1)" font-size="21" stroke="#000" stroke-width="0.35">,</text>
<text transform="translate(943.19,1034.30) scale(1.1045,1)" font-size="18.5" stroke="#000" stroke-width="0.25">Fe</text>
<text transform="translate(967.56,1041.20) scale(0.9721,1)" font-size="21" stroke="#000" stroke-width="0.35">oxa</text>
</svg>
</body></html>
